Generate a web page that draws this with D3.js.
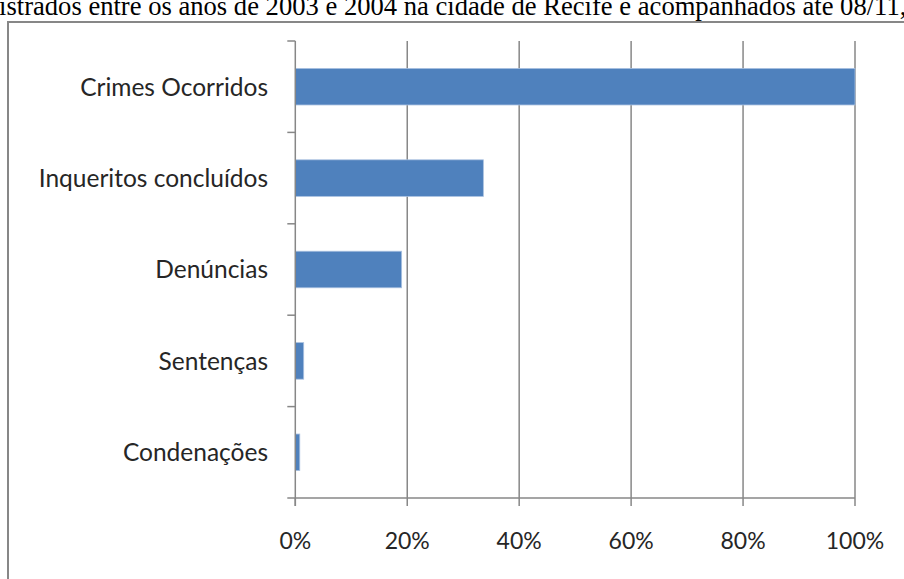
<!DOCTYPE html>
<html>
<head>
<meta charset="utf-8">
<script src="https://cdn.jsdelivr.net/npm/d3@7"></script>
<style>
  html, body { margin: 0; padding: 0; background: #fff; }
  svg { display: block; }
</style>
</head>
<body>
<svg id="chart" width="904" height="579"></svg>
<script>
// Stages of the criminal process, as a share of crimes that occurred
const categories = ["Crimes Ocorridos", "Inqueritos concluídos", "Denúncias", "Sentenças", "Condenações"];
const shares = [1.00, 0.336, 0.190, 0.015, 0.008];
const tickValues = [0, 0.2, 0.4, 0.6, 0.8, 1.0];
const tickLabels = ["0%", "20%", "40%", "60%", "80%", "100%"];
const captionText = "istrados entre os anos de 2003 e 2004 na cidade de Recife e acompanhados até 08/11,";

const svg = d3.select("#chart");
const gridColor = "#878787";
const barColor = "#4F81BD";
const labelFont = "Lato, 'Open Sans', sans-serif";

// caption line above the chart frame
svg.append("text")
  .attr("x", -1)
  .attr("y", 15)
  .attr("font-family", "'Liberation Serif', 'Times New Roman', serif")
  .attr("font-size", 26.6)
  .attr("fill", "#000")
  .text(captionText);

// chart frame
svg.append("rect")
  .attr("x", 8).attr("y", 22)
  .attr("width", 920).attr("height", 600)
  .attr("fill", "none")
  .attr("stroke", gridColor)
  .attr("stroke-width", 2);

const plot = { left: 295.3, right: 855, top: 41, bottom: 498 };

const x = d3.scaleLinear().domain([0, 1]).range([plot.left, plot.right]);
const y = d3.scaleBand().domain(categories)
  .range([plot.top, plot.bottom])
  .paddingInner(0.6).paddingOuter(0.3);
// band boundaries for the category axis ticks
const yEdge = d3.scaleLinear().domain([0, categories.length]).range([plot.top, plot.bottom]);

// vertical gridlines
svg.append("g").selectAll("line")
  .data(tickValues.slice(1))
  .join("line")
  .attr("x1", d => x(d)).attr("x2", d => x(d))
  .attr("y1", plot.top).attr("y2", plot.bottom)
  .attr("stroke", gridColor).attr("stroke-width", 1.5);

// bars
svg.append("g").selectAll("rect")
  .data(categories.map((c, i) => ({ c, v: shares[i] })))
  .join("rect")
  .attr("x", x(0))
  .attr("y", d => y(d.c))
  .attr("width", d => x(d.v) - x(0))
  .attr("height", y.bandwidth())
  .attr("fill", barColor)
  .attr("stroke", "#a9c1e0")
  .attr("stroke-width", 0.8);

// category axis
const yAxis = svg.append("g");
yAxis.append("line")
  .attr("x1", plot.left).attr("x2", plot.left)
  .attr("y1", plot.top).attr("y2", plot.bottom + 8)
  .attr("stroke", gridColor).attr("stroke-width", 1.5);
yAxis.selectAll("line.tick")
  .data(d3.range(categories.length + 1))
  .join("line")
  .attr("class", "tick")
  .attr("x1", plot.left - 8).attr("x2", plot.left)
  .attr("y1", d => yEdge(d)).attr("y2", d => yEdge(d))
  .attr("stroke", gridColor).attr("stroke-width", 1.5);
yAxis.selectAll("text")
  .data(categories)
  .join("text")
  .attr("x", 268)
  .attr("y", d => y(d) + y.bandwidth() / 2)
  .attr("dy", "0.36em")
  .attr("text-anchor", "end")
  .attr("font-family", labelFont)
  .attr("font-size", 24.5)
  .attr("fill", "#262626")
  .text(d => d);

// value axis
const xAxis = svg.append("g");
xAxis.append("line")
  .attr("x1", plot.left).attr("x2", plot.right)
  .attr("y1", plot.bottom).attr("y2", plot.bottom)
  .attr("stroke", gridColor).attr("stroke-width", 1.5);
xAxis.selectAll("line.tick")
  .data(tickValues)
  .join("line")
  .attr("class", "tick")
  .attr("x1", d => x(d)).attr("x2", d => x(d))
  .attr("y1", plot.bottom).attr("y2", plot.bottom + 8)
  .attr("stroke", gridColor).attr("stroke-width", 1.5);
xAxis.selectAll("text")
  .data(tickValues)
  .join("text")
  .attr("x", d => x(d))
  .attr("y", 549)
  .attr("text-anchor", "middle")
  .attr("font-family", labelFont)
  .attr("font-size", 23)
  .attr("fill", "#262626")
  .text((d, i) => tickLabels[i]);
</script>
</body>
</html>
